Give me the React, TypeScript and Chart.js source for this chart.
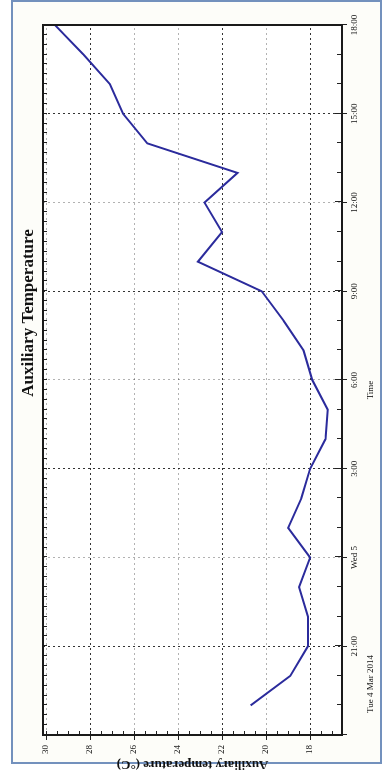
import React, { useEffect, useRef } from 'react';
import { Chart, registerables } from 'chart.js';

Chart.register(...registerables);

const TITLE = 'Auxiliary Temperature';
const Y_TITLE = 'Auxiliary temperature (°C)';
const X_TITLE = 'Time';
const DATE_LABEL = 'Tue 4 Mar 2014';

// hours after Tue 4 Mar 18:00
const HOURS = [1, 2, 3, 4, 5, 6, 7, 8, 9, 10, 11, 12, 13, 14, 15, 16, 17, 18, 19, 20, 21, 22, 23, 24];
const TEMPS = [20.7, 18.9, 18.1, 18.1, 18.5, 18.0, 19.0, 18.4, 18.0, 17.3, 17.2, 17.9, 18.3, 19.2, 20.2, 23.1, 22.0, 22.8, 21.3, 25.4, 26.5, 27.1, 28.3, 29.6];

const TIME_TICKS = [0, 3, 6, 9, 12, 15, 18, 21, 24];
const TIME_LABELS = ['', '21:00', 'Wed 5', '3:00', '6:00', '9:00', '12:00', '15:00', '18:00'];
const TEMP_TICKS = [30, 28, 26, 24, 22, 20, 18];
const TEMP_DARK = [28, 22, 18];

const SERIF = '"Liberation Serif", "DejaVu Serif", serif';

const decor = {
  id: 'decor',
  beforeDraw(chart: any) {
    const { ctx, width, height } = chart;
    ctx.save();
    ctx.fillStyle = '#ffffff';
    ctx.fillRect(0, 0, width, height);
    ctx.fillStyle = '#fdfdf9';
    ctx.fillRect(21, 12, width - 22, 369);
    ctx.strokeStyle = '#7391bd';
    ctx.lineWidth = 2;
    ctx.strokeRect(21, 12, width - 22, 369);
    ctx.fillStyle = '#ffffff';
    const a = chart.chartArea;
    ctx.fillRect(a.left, a.top, a.right - a.left, a.bottom - a.top);
    ctx.restore();
  },
  afterDraw(chart: any) {
    const { ctx, chartArea: a, scales } = chart;
    const xs = scales.x;
    const ys = scales.y;
    ctx.save();
    // minor ticks
    ctx.strokeStyle = '#222';
    ctx.lineWidth = 1;
    ctx.beginPath();
    for (let h = 1; h < 24; h++) {
      const x = Math.round(xs.getPixelForValue(h)) + 0.5;
      const len = h % 3 === 0 ? 7 : 5;
      ctx.moveTo(x, a.bottom);
      ctx.lineTo(x, a.bottom - len);
    }
    for (let m = 1; m < 72; m++) {
      const x = Math.round(xs.getPixelForValue(m / 3)) + 0.5;
      ctx.moveTo(x, a.top);
      ctx.lineTo(x, a.top + 4);
    }
    for (let t = 17; t < 30.1; t += 0.5) {
      const y = Math.round(ys.getPixelForValue(t)) + 0.5;
      if (y > a.top && y < a.bottom) {
        ctx.moveTo(a.left, y);
        ctx.lineTo(a.left + 4, y);
      }
    }
    ctx.stroke();
    // box
    ctx.strokeStyle = '#1a1a1a';
    ctx.lineWidth = 2;
    ctx.strokeRect(a.left, a.top, a.right - a.left, a.bottom - a.top);

    // texts
    ctx.fillStyle = '#111';
    ctx.font = 'bold 17px ' + SERIF;
    ctx.textAlign = 'center';
    ctx.textBaseline = 'alphabetic';
    ctx.fillText(TITLE, 471, 33);

    ctx.font = '9px ' + SERIF;
    ctx.textBaseline = 'middle';
    ctx.fillText(X_TITLE, 394, 371);
    ctx.textAlign = 'left';
    ctx.fillText(DATE_LABEL, 71, 371);

    ctx.save();
    ctx.translate(20, (a.top + a.bottom) / 2);
    ctx.rotate(-Math.PI / 2);
    ctx.font = 'bold 13px ' + SERIF;
    ctx.textAlign = 'center';
    ctx.textBaseline = 'middle';
    ctx.fillText(Y_TITLE, 0, 0);
    ctx.restore();
    ctx.restore();
  },
};

export default function App() {
  const ref = useRef<HTMLCanvasElement | null>(null);

  useEffect(() => {
    if (!ref.current) return;
    const chart = new Chart(ref.current, {
      type: 'line',
      data: {
        datasets: [
          {
            data: HOURS.map((h, i) => ({ x: h, y: TEMPS[i] })),
            borderColor: '#2b2b9c',
            borderWidth: 2,
            pointRadius: 0,
            tension: 0,
            fill: false,
          },
        ],
      },
      options: {
        animation: false,
        responsive: false,
        devicePixelRatio: 1,
        layout: { padding: { left: 9, top: 43, right: 25, bottom: 16 } },
        plugins: { legend: { display: false }, tooltip: { enabled: false }, title: { display: false } },
        scales: {
          x: {
            type: 'linear',
            min: 0,
            max: 24,
            afterBuildTicks: (s: any) => {
              s.ticks = TIME_TICKS.map((v) => ({ value: v }));
            },
            afterFit: (s: any) => {
              s.height = 28;
            },
            ticks: {
              autoSkip: false,
              maxRotation: 0,
              padding: 2,
              color: '#111',
              font: { family: SERIF, size: 9 },
              callback: (v: any) => TIME_LABELS[TIME_TICKS.indexOf(Number(v))],
            },
            grid: {
              color: (c: any) => (c.index % 2 === 1 ? 'rgba(0,0,0,0.8)' : 'rgba(0,0,0,0.3)'),
              lineWidth: 1,
              tickLength: 5,
              tickColor: '#222',
            },
            border: { display: false, dash: [2, 3] },
          },
          y: {
            type: 'linear',
            min: 16.55,
            max: 30.14,
            afterBuildTicks: (s: any) => {
              s.ticks = TEMP_TICKS.map((v) => ({ value: v }));
            },
            afterFit: (s: any) => {
              s.width = 40;
            },
            ticks: {
              padding: 5,
              color: '#111',
              font: { family: SERIF, size: 9 },
              callback: (v: any) => String(v),
            },
            grid: {
              color: (c: any) =>
                c.tick && TEMP_DARK.includes(c.tick.value) ? 'rgba(0,0,0,0.8)' : 'rgba(0,0,0,0.3)',
              lineWidth: 1,
              tickLength: 5,
              tickColor: '#222',
            },
            border: { display: false, dash: [2, 3] },
          },
        },
      },
      plugins: [decor],
    } as any);
    return () => chart.destroy();
  }, []);

  return (
    <div style={{ position: 'fixed', left: 0, top: 0, width: 386, height: 784, overflow: 'hidden', background: '#fff' }}>
      <div
        style={{
          position: 'absolute',
          left: 0,
          top: 0,
          width: 784,
          height: 386,
          transformOrigin: '0 0',
          transform: 'translateY(784px) rotate(-90deg)',
        }}
      >
        <canvas ref={ref} width={784} height={386} style={{ width: 784, height: 386, display: 'block' }} />
      </div>
    </div>
  );
}
